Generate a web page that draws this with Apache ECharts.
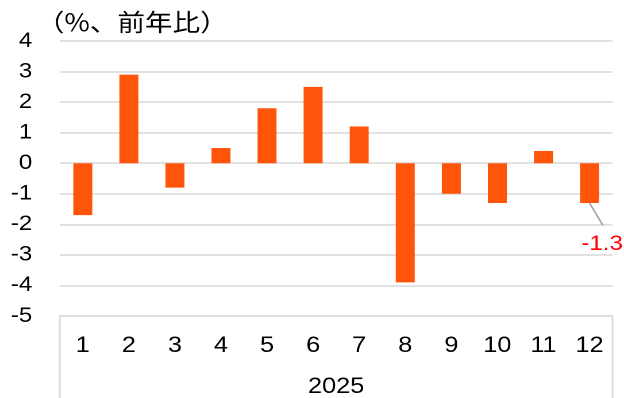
<!DOCTYPE html>
<html>
<head>
<meta charset="utf-8">
<script src="https://cdn.jsdelivr.net/npm/echarts@6/dist/echarts.min.js"></script>
<style>
  html, body { margin: 0; padding: 0; background: #fff; overflow: hidden; }
  /* the source picture is a slightly widened export, so stretch the same way */
  #chart { width: 543px; height: 398px; transform: scaleX(1.1492); transform-origin: 0 0; }
</style>
</head>
<body>
<div id="chart"></div>
<script>
// monthly change, % yoy
const months = ['1', '2', '3', '4', '5', '6', '7', '8', '9', '10', '11', '12'];
const yearLabel = ['2025'];
const values = [-1.7, 2.9, -0.8, 0.5, 1.8, 2.5, 1.2, -3.9, -1.0, -1.3, 0.4, -1.3];
const unitTitle = '（%、前年比）';

const FONT = 'Arial, "Liberation Sans", sans-serif';
const GRID_GRAY = '#d9d9d9';
const BAR_COLOR = '#FF550A';

const lastIdx = values.length - 1;
// callout leader: from the end of the last bar down-right to its label
const leaderLine = [
  [lastIdx, values[lastIdx]],
  [lastIdx + 0.29, values[lastIdx] - 0.73]
];

const chart = echarts.init(document.getElementById('chart'), null, { devicePixelRatio: 2 });

const barData = values.map((v, i) => {
  if (i !== lastIdx) return v;
  // only the last bar gets a callout label
  return {
    value: v,
    label: {
      show: true,
      position: 'bottom',
      color: '#FF0000',
      fontSize: 21,
      fontFamily: FONT,
      formatter: (p) => p.value.toFixed(1)
    }
  };
});

const gridRect = { left: 52, right: 10, top: 41, bottom: 82, containLabel: false };

const option = {
  animation: false,
  backgroundColor: '#fff',
  title: {
    text: unitTitle,
    left: 27,
    top: 5,
    textStyle: {
      fontSize: 24,
      fontWeight: 'normal',
      color: '#000',
      fontFamily: '"Noto Sans CJK JP", sans-serif'
    }
  },
  // grid 1 carries the year axis with its long separator ticks,
  // grid 2 a hidden numeric frame for the leader line
  grid: [gridRect, Object.assign({}, gridRect), Object.assign({}, gridRect)],
  xAxis: [
    {
      type: 'category',
      gridIndex: 0,
      data: months,
      axisLine: { show: true, onZero: false, lineStyle: { color: GRID_GRAY, width: 1.5 } },
      axisTick: { show: false },
      axisLabel: { color: '#000', fontSize: 22, fontFamily: FONT, margin: 19 }
    },
    {
      type: 'category',
      gridIndex: 1,
      data: yearLabel,
      position: 'bottom',
      axisLine: { show: false },
      axisTick: { show: true, length: 82, lineStyle: { color: GRID_GRAY, width: 1.5 } },
      axisLabel: { color: '#000', fontSize: 22, fontFamily: FONT, margin: 60 }
    },
    {
      type: 'value',
      gridIndex: 2,
      min: -0.5,
      max: months.length - 0.5,
      show: false
    }
  ],
  yAxis: [
    {
      type: 'value',
      gridIndex: 0,
      min: -5,
      max: 4,
      interval: 1,
      axisLine: { show: false },
      axisTick: { show: false },
      axisLabel: { color: '#000', fontSize: 21, fontFamily: FONT, margin: 24 },
      splitLine: { show: true, lineStyle: { color: GRID_GRAY, width: 1.5 } }
    },
    {
      type: 'value',
      gridIndex: 1,
      show: false
    },
    {
      type: 'value',
      gridIndex: 2,
      min: -5,
      max: 4,
      show: false
    }
  ],
  series: [
    {
      type: 'bar',
      xAxisIndex: 0,
      yAxisIndex: 0,
      data: barData,
      barWidth: 16.5,
      itemStyle: { color: BAR_COLOR },
      labelLayout: { dx: 11, dy: 26 }
    },
    {
      type: 'line',
      xAxisIndex: 2,
      yAxisIndex: 2,
      data: leaderLine,
      symbol: 'none',
      silent: true,
      lineStyle: { color: '#a6a6a6', width: 1.5 }
    }
  ]
};

chart.setOption(option);
</script>
</body>
</html>
